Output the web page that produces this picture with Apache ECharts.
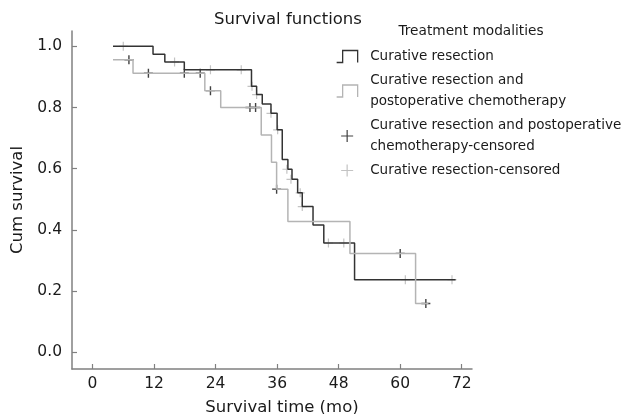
<!DOCTYPE html>
<html>
<head>
<meta charset="utf-8">
<script src="https://cdn.jsdelivr.net/npm/echarts@6/dist/echarts.min.js"></script>
<style>
  html, body { margin: 0; padding: 0; background: #fff; }
  #chart { width: 626px; height: 414px; }
</style>
</head>
<body>
<div id="chart"></div>
<script>
// Kaplan-Meier steps (months, cumulative survival)
const resectionTime = [4, 11.8, 14.1, 17.9, 31.0, 32.0, 33.1, 34.8, 36.0, 37.0, 38.1, 38.9, 40.0, 40.9, 43.0, 45.1, 51.1, 70.8]
const resectionSurv = [1.0, 0.974, 0.949, 0.923, 0.869, 0.842, 0.811, 0.781, 0.727, 0.630, 0.598, 0.565, 0.521, 0.476, 0.416, 0.357, 0.237, 0.237]

const chemoTime = [4, 7.9, 21.9, 25.0, 32.9, 34.9, 35.9, 38.1, 50.2, 63.0, 65.5]
const chemoSurv = [0.956, 0.912, 0.855, 0.800, 0.710, 0.621, 0.533, 0.427, 0.323, 0.159, 0.159]

// censored cases (the + marks)
const chemoCensTime = [7.1, 10.9, 17.9, 21.0, 23.0, 30.7, 31.8, 35.9, 60.0, 65.0]
const chemoCensSurv = [0.956, 0.912, 0.912, 0.912, 0.855, 0.800, 0.800, 0.533, 0.323, 0.159]

const resectionCensTime = [6.0, 16.0, 23.0, 29.0, 31.1, 32.0, 34.8, 36.1, 37.9, 38.7, 40.5, 40.9, 46.0, 49.0, 61.0, 70.1]
const resectionCensSurv = [1.0, 0.949, 0.923, 0.923, 0.869, 0.842, 0.781, 0.727, 0.598, 0.565, 0.521, 0.476, 0.357, 0.357, 0.237, 0.237]

const xTicks = [0, 12, 24, 36, 48, 60, 72]
const yTicks = [0, 0.2, 0.4, 0.6, 0.8, 1.0]

const seriesNames = [
  'Curative resection',
  'Curative resection and postoperative chemotherapy',
  'Curative resection and postoperative chemotherapy-censored',
  'Curative resection-censored'
]
const legendLabels = [
  'Curative resection',
  'Curative resection and\npostoperative chemotherapy',
  'Curative resection and postoperative\nchemotherapy-censored',
  'Curative resection-censored'
]

const FONT = 'DejaVu Sans'
const DARK = '#333333'
const LIGHT = '#b4b4b4'
const AXIS = '#808080'
const TEXT = '#1a1a1a'

const stepIcon = 'path://M0,12L6,12L6,0L21,0L21,12'
const plusIcon = 'path://M0,5L10,5M5,0L5,10'

const pairs = (xs, ys) => xs.map((x, i) => [x, ys[i]])

const chart = echarts.init(document.getElementById('chart'))

chart.setOption({
  animation: false,
  backgroundColor: '#fff',
  title: [
    {
      text: 'Survival functions',
      left: 288, top: 11, textAlign: 'center', padding: 0,
      textStyle: { fontFamily: FONT, fontSize: 16.5, fontWeight: 'normal', color: TEXT }
    },
    {
      text: 'Treatment modalities',
      left: 471, top: 24, textAlign: 'center', padding: 0,
      textStyle: { fontFamily: FONT, fontSize: 13.7, fontWeight: 'normal', color: TEXT }
    }
  ],
  legend: {
    orient: 'vertical',
    left: 336, top: 46, padding: 0,
    itemWidth: 36, itemHeight: 12, itemGap: 3,
    selectedMode: false,
    textStyle: { fontFamily: FONT, fontSize: 13.5, color: TEXT, lineHeight: 21 },
    formatter: name => legendLabels[seriesNames.indexOf(name)],
    data: [
      { name: seriesNames[0], icon: stepIcon, itemStyle: { color: 'transparent', borderColor: DARK, borderWidth: 1.3 } },
      { name: seriesNames[1], icon: stepIcon, itemStyle: { color: 'transparent', borderColor: LIGHT, borderWidth: 1.3 } },
      { name: seriesNames[2], icon: plusIcon, itemStyle: { color: 'transparent', borderColor: '#111', borderWidth: 1.2 } },
      { name: seriesNames[3], icon: plusIcon, itemStyle: { color: 'transparent', borderColor: LIGHT, borderWidth: 1.2 } }
    ]
  },
  grid: { left: 72, right: 154, top: 31, bottom: 45, containLabel: false, outerBoundsMode: 'none' },
  xAxis: {
    type: 'value',
    min: -4, max: 74,
    name: 'Survival time (mo)',
    nameLocation: 'middle',
    nameGap: 30,
    nameTextStyle: { fontFamily: FONT, fontSize: 16.5, color: TEXT, padding: [0, 0, 0, 20] },
    axisLine: { onZero: false, lineStyle: { color: AXIS, width: 1.5 } },
    axisTick: { inside: true, length: 5, customValues: xTicks, lineStyle: { color: AXIS, width: 1.2 } },
    axisLabel: { customValues: xTicks, fontFamily: FONT, fontSize: 15.5, color: TEXT, margin: 7 },
    splitLine: { show: false }
  },
  yAxis: {
    type: 'value',
    min: -0.055, max: 1.05,
    name: 'Cum survival',
    nameLocation: 'middle',
    nameGap: 43,
    nameTextStyle: { fontFamily: FONT, fontSize: 16.5, color: TEXT },
    axisLine: { show: true, onZero: false, lineStyle: { color: AXIS, width: 1.5 } },
    axisTick: { show: true, inside: true, length: 5, customValues: yTicks, lineStyle: { color: AXIS, width: 1.2 } },
    axisLabel: {
      customValues: yTicks, fontFamily: FONT, fontSize: 15.5, color: TEXT, margin: 10,
      formatter: v => v.toFixed(1)
    },
    splitLine: { show: false }
  },
  series: [
    {
      name: seriesNames[0],
      type: 'line',
      step: 'end',
      symbol: 'none',
      data: pairs(resectionTime, resectionSurv),
      lineStyle: { color: DARK, width: 1.5 },
      itemStyle: { color: DARK },
      silent: true
    },
    {
      name: seriesNames[1],
      type: 'line',
      step: 'end',
      symbol: 'none',
      data: pairs(chemoTime, chemoSurv),
      lineStyle: { color: LIGHT, width: 1.5 },
      itemStyle: { color: LIGHT },
      silent: true
    },
    {
      name: seriesNames[2],
      type: 'scatter',
      symbol: plusIcon,
      symbolSize: 9,
      data: pairs(chemoCensTime, chemoCensSurv),
      itemStyle: { color: 'transparent', borderColor: '#111', borderWidth: 1.4 },
      silent: true
    },
    {
      name: seriesNames[3],
      type: 'scatter',
      symbol: plusIcon,
      symbolSize: 9,
      data: pairs(resectionCensTime, resectionCensSurv),
      itemStyle: { color: 'transparent', borderColor: LIGHT, borderWidth: 1.2 },
      silent: true
    }
  ]
})
</script>
</body>
</html>
